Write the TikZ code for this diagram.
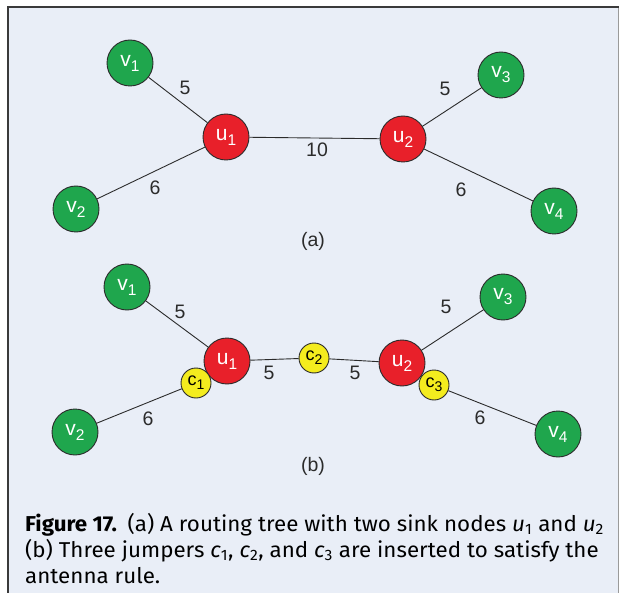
\documentclass[tikz,border=0pt]{standalone}
\usepackage{fontspec}
\setmainfont{Liberation Sans}
\newfontfamily\capfont[FakeStretch=1.04]{Fira Sans}
\definecolor{panelbg}{HTML}{E9EEF7}
\definecolor{framedark}{HTML}{3A3A3A}
\definecolor{framelight}{HTML}{9A9A9A}
\definecolor{sinkgreen}{HTML}{1FA64D}
\definecolor{steinerred}{HTML}{E8202A}
\definecolor{jumperyellow}{HTML}{F4EC1E}
\definecolor{ink}{HTML}{2B2B2B}
% node label: letter with a lowered index
\newcommand{\nlab}[2]{#1\raisebox{-5pt}{\fontsize{15.5}{15.5}\selectfont #2}}
\newcommand{\clab}[2]{#1\raisebox{-4pt}{\fontsize{14}{14}\selectfont #2}}
\tikzset{
  vertex/.style={circle, draw=ink, line width=0.9pt, inner sep=0pt,
    minimum size=46pt, text=white, font=\fontsize{21}{21}\selectfont},
  sink/.style={vertex, fill=sinkgreen},
  steiner/.style={vertex, fill=steinerred},
  jumper/.style={circle, draw=ink, line width=0.9pt, inner sep=0pt,
    minimum size=30pt, fill=jumperyellow, text=black, font=\fontsize{18}{18}\selectfont},
  wire/.style={draw=ink, line width=0.9pt},
  wlabel/.style={text=ink, inner sep=0pt, font=\fontsize{19.5}{19.5}\selectfont},
  caption/.style={anchor=base west, inner sep=0pt, text=black,
    font=\capfont\fontsize{21.5}{26}\selectfont}
}
\begin{document}
\begin{tikzpicture}[x=1pt,y=-1pt]
\useasboundingbox (0,0) rectangle (620,593);
\fill[white] (0,0) rectangle (620,593);
% panel
\fill[panelbg] (8,7) rectangle (618.5,593);
\draw[framelight, line width=1pt] (618.5,7) -- (618.5,593);
\draw[framedark, line width=1.5pt] (8,593) -- (8,7) -- (618.5,7);

% ---------- (a) routing tree ----------
\node[steiner] (au1) at (226,137) {\nlab{u}{1}};
\node[steiner] (au2) at (403,139) {\nlab{u}{2}};
\node[sink] (av1) at (130,63) {\nlab{v}{1}};
\node[sink] (av2) at (76,209) {\nlab{v}{2}};
\node[sink] (av3) at (501,75) {\nlab{v}{3}};
\node[sink] (av4) at (554,211) {\nlab{v}{4}};
\draw[wire] (av1) -- (au1);
\draw[wire] (av2) -- (au1);
\draw[wire] (au1) -- (au2);
\draw[wire] (au2) -- (av3);
\draw[wire] (au2) -- (av4);
\node[wlabel] (aw1) at (185,88) {5};
\node[wlabel] (aw2) at (155,188) {6};
\node[wlabel] (aw3) at (317,150) {10};
\node[wlabel] (aw4) at (445,89) {5};
\node[wlabel] (aw5) at (461,190) {6};
\node[wlabel] (atag) at (313,241) {(a)};

% ---------- (b) with jumpers ----------
\node[steiner] (bu1) at (227,361) {\nlab{u}{1}};
\node[steiner] (bu2) at (402,363) {\nlab{u}{2}};
\node[sink] (bv1) at (127,287) {\nlab{v}{1}};
\node[sink] (bv2) at (75,432) {\nlab{v}{2}};
\node[sink] (bv3) at (503,297) {\nlab{v}{3}};
\node[sink] (bv4) at (558,434) {\nlab{v}{4}};
\node[jumper] (bc1) at (196,383) {\clab{c}{1}};
\node[jumper] (bc2) at (314,358) {\clab{c}{2}};
\node[jumper] (bc3) at (434,385) {\clab{c}{3}};
\draw[wire] (bv1) -- (bu1);
\draw[wire] (bv2) -- (bc1);
\draw[wire] (bu1) -- (bc2);
\draw[wire] (bc2) -- (bu2);
\draw[wire] (bu2) -- (bv3);
\draw[wire] (bc3) -- (bv4);
\node[wlabel] (bw1) at (180,312) {5};
\node[wlabel] (bw2) at (148,419) {6};
\node[wlabel] (bw3) at (269,373) {5};
\node[wlabel] (bw4) at (355,373) {5};
\node[wlabel] (bw5) at (446,307) {5};
\node[wlabel] (bw6) at (480,418) {6};
\node[wlabel] (btag) at (313,466) {(b)};

% ---------- caption ----------
\node[caption] (cap1) at (25,531) {\textbf{Figure 17.}\enspace(a) A routing tree with two sink nodes \textit{u}\textsubscript{1} and \textit{u}\textsubscript{2}};
\node[caption] (cap2) at (25,557) {(b) Three jumpers \textit{c}\textsubscript{1}, \textit{c}\textsubscript{2}, and \textit{c}\textsubscript{3} are inserted to satisfy the};
\node[caption] (cap3) at (25,583) {antenna rule.};
\end{tikzpicture}
\end{document}
